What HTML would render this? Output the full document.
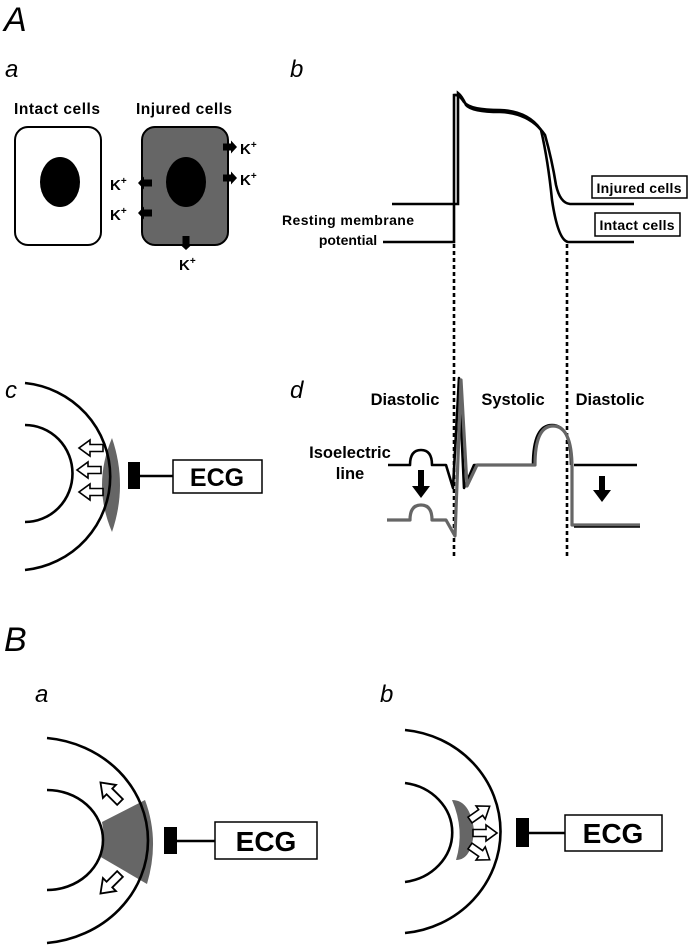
<!DOCTYPE html>
<html><head><meta charset="utf-8"><style>
html,body{margin:0;padding:0;background:#fff}
svg{display:block}
text{font-family:"Liberation Sans",Arial,sans-serif}
.b{font-weight:bold}
.i{font-style:italic}
</style></head><body>
<svg width="689" height="952" viewBox="0 0 689 952" xmlns="http://www.w3.org/2000/svg">
<defs>
<path id="oa" d="M0,-3.5 L13,-3.5 L13,-8 L24,0 L13,8 L13,3.5 L0,3.5 Z" fill="#fff" stroke="#000" stroke-width="1.6"/>
<path id="ka" d="M0,-3.5 L8,-3.5 L8,-6.5 L14,0 L8,6.5 L8,3.5 L0,3.5 Z" fill="#000"/>
</defs>
<!-- Labels -->
<text x="4" y="31" font-size="34" class="i">A</text>
<text x="5" y="77" font-size="24" class="i">a</text>
<text x="290" y="77" font-size="24" class="i">b</text>
<text x="5" y="398" font-size="24" class="i">c</text>
<text x="290" y="398" font-size="24" class="i">d</text>
<text x="4" y="651" font-size="34" class="i">B</text>
<text x="35" y="702" font-size="24" class="i">a</text>
<text x="380" y="702" font-size="24" class="i">b</text>

<!-- cells -->
<text x="57" y="114" font-size="15.5" class="b" text-anchor="middle" textLength="86">Intact cells</text>
<text x="184" y="114" font-size="15.5" class="b" text-anchor="middle" textLength="96">Injured cells</text>
<rect x="15" y="127" width="86" height="118" rx="13" fill="#fff" stroke="#000" stroke-width="2"/>
<ellipse cx="60" cy="182" rx="20" ry="25" fill="#000"/>
<rect x="142" y="127" width="86" height="118" rx="13" fill="#666" stroke="#000" stroke-width="2"/>
<ellipse cx="186" cy="182" rx="20" ry="25" fill="#000"/>
<use href="#ka" transform="translate(223,147)"/>
<use href="#ka" transform="translate(223,178)"/>
<use href="#ka" transform="translate(152,183) rotate(180)"/>
<use href="#ka" transform="translate(152,213) rotate(180)"/>
<use href="#ka" transform="translate(186,236) rotate(90)"/>
<g font-size="15" class="b">
<text x="240" y="154">K<tspan font-size="10" dy="-6">+</tspan></text>
<text x="240" y="185">K<tspan font-size="10" dy="-6">+</tspan></text>
<text x="110" y="190">K<tspan font-size="10" dy="-6">+</tspan></text>
<text x="110" y="220">K<tspan font-size="10" dy="-6">+</tspan></text>
<text x="179" y="270">K<tspan font-size="10" dy="-6">+</tspan></text>
</g>

<!-- action potential -->
<g fill="none" stroke="#000" stroke-width="2.6">
<path d="M392,204 L458,204 L458,93 Q462,96 466,105 Q472,112 500,112 Q530,113 545,135 Q552,160 556,185 Q560,203 570,204 L634,204"/>
<path d="M383,242 L454,242 L454,95 Q459,94 464,102 Q470,110 500,110 Q528,111 541,130 Q548,160 552,200 Q558,240 568,242 L634,242"/>
</g>
<text x="348" y="225" font-size="14" class="b" text-anchor="middle" textLength="132">Resting membrane</text>
<text x="348" y="245" font-size="14" class="b" text-anchor="middle">potential</text>
<rect x="592" y="176" width="95" height="22" fill="#fff" stroke="#000" stroke-width="1.5"/>
<text x="639" y="193" font-size="14" class="b" text-anchor="middle" textLength="85">Injured cells</text>
<rect x="595" y="213" width="85" height="23" fill="#fff" stroke="#000" stroke-width="1.5"/>
<text x="637" y="230" font-size="14" class="b" text-anchor="middle" textLength="75">Intact cells</text>
<g stroke="#000" stroke-width="2.6" stroke-dasharray="4,3">
<line x1="454" y1="244" x2="454" y2="556"/>
<line x1="567" y1="244" x2="567" y2="556"/>
</g>

<!-- ECG d -->
<text x="405" y="405" font-size="16.5" class="b" text-anchor="middle">Diastolic</text>
<text x="513" y="405" font-size="16.5" class="b" text-anchor="middle">Systolic</text>
<text x="610" y="405" font-size="16.5" class="b" text-anchor="middle">Diastolic</text>
<text x="350" y="458" font-size="16.5" class="b" text-anchor="middle">Isoelectric</text>
<text x="350" y="479" font-size="16.5" class="b" text-anchor="middle">line</text>
<g fill="none" stroke-linejoin="round">
<path d="M388,465 L410,465 Q410,450 421,450 Q432,450 432,465 L446,465 L453,488 L459,378 L464,488 L474,465 L533,465 Q533,425 552,425 Q571,425 571,465" stroke="#000" stroke-width="2.6"/>
<path d="M574,465 L637,465" stroke="#000" stroke-width="2.6"/>
<path d="M387,520 L410,520 Q410,505 421,505 Q432,505 432,520 L446,520 L455,536 L461,380 L467,486 L477,465 L535,465 Q535,426 553,426 Q572,426 572,468 L572,525 L640,525" stroke="#666" stroke-width="3.2"/>
<path d="M574,527 L640,527" stroke="#000" stroke-width="1.4"/>
</g>
<path d="M418,470 L418,486 L412,486 L421,498 L430,486 L424,486 L424,470 Z" fill="#000"/>
<path d="M599,476 L599,490 L593,490 L602,502 L611,490 L605,490 L605,476 Z" fill="#000"/>

<!-- c -->
<path d="M112,438 Q92,485 112,532 Q128,485 112,438 Z" fill="#666"/>
<g fill="none" stroke="#000" stroke-width="2.6">
<path d="M25,383 A95,94 0 0 1 25,570"/>
<path d="M25,425 A47,48 0 0 1 25,522"/>
</g>
<use href="#oa" transform="translate(103,448) rotate(180)"/>
<use href="#oa" transform="translate(101,470) rotate(180)"/>
<use href="#oa" transform="translate(103,492) rotate(180)"/>
<rect x="128" y="462" width="12" height="27" fill="#000"/>
<line x1="140" y1="476" x2="173" y2="476" stroke="#000" stroke-width="2.6"/>
<rect x="173" y="460" width="89" height="33" fill="#fff" stroke="#000" stroke-width="1.5"/>
<text x="217" y="486" font-size="25" class="b" text-anchor="middle">ECG</text>

<!-- B a -->
<path d="M102,822 L145,800 Q160,840 147,884 L99,856 Q106,840 102,822 Z" fill="#666"/>
<g fill="none" stroke="#000" stroke-width="2.6">
<path d="M47,738 A112,103 0 0 1 47,943"/>
<path d="M47,790 A56,50 0 0 1 47,890"/>
</g>
<use href="#oa" transform="translate(120,802) rotate(-135) scale(1.15)"/>
<use href="#oa" transform="translate(120,874) rotate(135) scale(1.15)"/>
<rect x="164" y="827" width="13" height="27" fill="#000"/>
<line x1="177" y1="841" x2="215" y2="841" stroke="#000" stroke-width="2.6"/>
<rect x="215" y="822" width="102" height="37" fill="#fff" stroke="#000" stroke-width="1.5"/>
<text x="266" y="851" font-size="28" class="b" text-anchor="middle">ECG</text>

<!-- B b -->
<path d="M452,800 Q470,800 474,830 Q472,860 456,860 Q465,830 452,800 Z" fill="#666"/>
<g fill="none" stroke="#000" stroke-width="2.6">
<path d="M405,730 A106,102 0 0 1 405,933"/>
<path d="M405,783 A55,50 0 0 1 405,882"/>
</g>
<use href="#oa" transform="translate(470,820) rotate(-35)"/>
<use href="#oa" transform="translate(473,833)"/>
<use href="#oa" transform="translate(470,846) rotate(35)"/>
<rect x="516" y="818" width="13" height="29" fill="#000"/>
<line x1="529" y1="833" x2="565" y2="833" stroke="#000" stroke-width="2.6"/>
<rect x="565" y="815" width="97" height="36" fill="#fff" stroke="#000" stroke-width="1.5"/>
<text x="613" y="843" font-size="28" class="b" text-anchor="middle">ECG</text>
</svg>
</body></html>
